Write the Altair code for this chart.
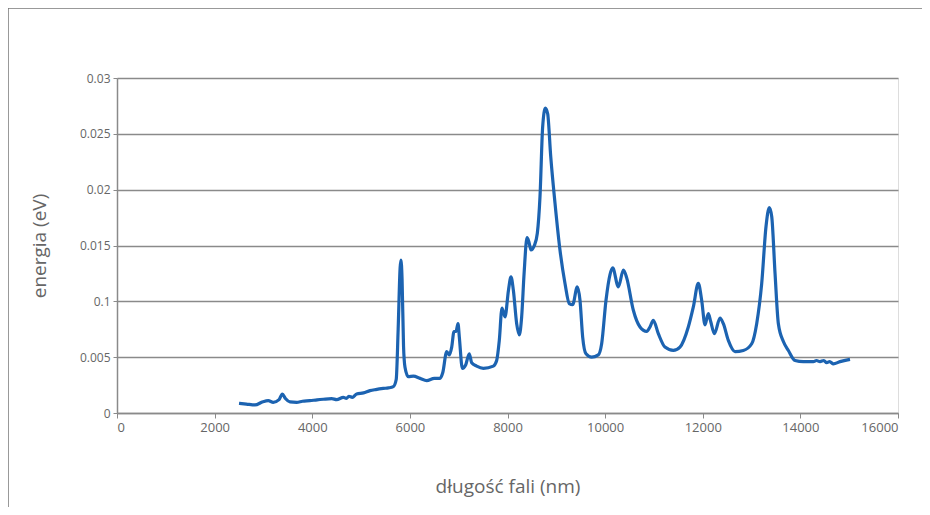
import altair as alt
import pandas as pd

wavelength = [2500, 2650, 2827, 2990, 3100, 3200, 3320, 3387, 3450, 3545, 3680, 3800, 3950, 4100, 4227,
              4400, 4500, 4637, 4700, 4750, 4820, 4910, 5050, 5183, 5300, 5456, 5560, 5661, 5720, 5760,
              5800, 5818, 5840, 5870, 5900, 5968, 6072, 6208, 6345, 6500,
              6618, 6673, 6755, 6809, 6857, 6904, 6945, 6986, 7013, 7075, 7143, 7217, 7266, 7368, 7505,
              7710, 7778, 7832, 7887, 7949, 8020, 8072, 8120, 8188, 8242, 8290, 8340, 8400, 8440, 8481,
              8550, 8611, 8666, 8720, 8775, 8823, 8885, 8973, 9075, 9178, 9266, 9335, 9430, 9485, 9540,
              9608, 9724, 9860, 9929, 10018, 10100, 10155, 10271, 10374, 10442, 10578, 10715, 10851, 10919,
              10987, 11090, 11226, 11397, 11533, 11704, 11807, 11909, 11978, 12046, 12114, 12163, 12238,
              12354, 12422, 12524, 12661, 12832, 13003, 13105, 13208, 13296, 13364, 13413, 13481, 13549,
              13652, 13754, 13891, 14062, 14266, 14330, 14403, 14480, 14539, 14600, 14676, 14812, 15017]
energy = [0.00087, 0.0008, 0.00072, 0.00101, 0.0011, 0.00096, 0.0012, 0.0017, 0.0013, 0.001, 0.00096,
          0.00105, 0.0011, 0.00118, 0.00123, 0.00128, 0.0012, 0.0014, 0.0013, 0.0015, 0.0014, 0.0017,
          0.0018, 0.002, 0.0021, 0.0022, 0.00225, 0.00236, 0.003, 0.0075,
          0.013, 0.0137, 0.012,
          0.006, 0.0041, 0.00325, 0.0033, 0.0031, 0.0029, 0.0031, 0.0031, 0.0036, 0.0055, 0.0052, 0.0059,
          0.0073, 0.0073, 0.008, 0.0068, 0.004, 0.0043, 0.0053, 0.0045, 0.0042, 0.004, 0.0042, 0.0047,
          0.0065, 0.0094, 0.0086, 0.011, 0.0122, 0.011, 0.008, 0.007, 0.0086, 0.0125, 0.0157, 0.0153,
          0.0146, 0.015, 0.0161, 0.0194, 0.0256, 0.0273, 0.0268, 0.023, 0.0188, 0.0146, 0.0116, 0.0098,
          0.0097, 0.0113, 0.0101, 0.0068, 0.0053, 0.005, 0.0052, 0.0062, 0.0101, 0.0124, 0.013, 0.0113,
          0.0128, 0.0121, 0.0092, 0.0077, 0.0073, 0.0077, 0.0083, 0.0071, 0.0059, 0.0056, 0.0059, 0.0077,
          0.0095, 0.0116, 0.0101, 0.0079, 0.0089, 0.0082, 0.0071, 0.0085, 0.008, 0.0065, 0.0055, 0.0056,
          0.0062, 0.008, 0.0116, 0.0167, 0.0184, 0.0176, 0.0125, 0.008, 0.0064, 0.0056, 0.0047, 0.0046,
          0.0046, 0.0047, 0.0046, 0.0047, 0.0045, 0.0046, 0.0044, 0.0046, 0.0048]

x_ticks = [0, 2000, 4000, 6000, 8000, 10000, 12000, 14000, 16000]
y_tick_values = [0, 0.005, 0.01, 0.015, 0.02, 0.025, 0.03]
y_tick_labels = ["0", "0.005", "0.1", "0.015", "0.02", "0.025", "0.03"]

x_title = "długość fali (nm)"
y_title = "energia (eV)"

df = pd.DataFrame({"wavelength": wavelength, "energy": energy})

label_expr = "[" + ",".join("'" + s + "'" for s in y_tick_labels) + "][indexof([" + \
    ",".join(repr(v) for v in y_tick_values) + "], datum.value)]"

GREY = "#8a8a8a"
TEXT = "#666666"
FONT = "Open Sans"

line = alt.Chart(df).mark_line(color="#1c63b1", strokeWidth=3.2, interpolate="monotone").encode(
    x=alt.X("wavelength:Q",
            scale=alt.Scale(domain=[0, 16000], nice=False),
            axis=alt.Axis(values=x_ticks, title=x_title, grid=False, format="d",
                          labelFont=FONT, labelFontSize=13, labelColor=TEXT, labelPadding=3,
                          tickSize=5, tickColor=GREY, domainColor=GREY, domainWidth=1.5,
                          titleFont=FONT, titleFontSize=19, titleFontWeight="normal",
                          titleColor=TEXT, titlePadding=43)),
    y=alt.Y("energy:Q",
            scale=alt.Scale(domain=[0, 0.03], nice=False),
            axis=alt.Axis(values=y_tick_values, labelExpr=label_expr, title=y_title,
                          grid=True, gridColor=GREY, gridWidth=1.3,
                          labelFont=FONT, labelFontSize=12, labelColor=TEXT,
                          labelPadding=3, tickSize=4, tickColor=GREY, domainColor=GREY,
                          domainWidth=1.5, titleFont=FONT, titleFontSize=19,
                          titleFontWeight="normal", titleColor=TEXT, titlePadding=30)),
)

one = pd.DataFrame({"k": [0]})
frame_left = alt.Chart(one).mark_rule(color="#777777", strokeWidth=1.5).encode(
    x=alt.value(-109), y=alt.value(-70), y2=alt.value(600)
)
frame_top = alt.Chart(one).mark_rule(color="#777777", strokeWidth=1.5).encode(
    x=alt.value(-109), x2=alt.value(1000), y=alt.value(-70)
)

chart = alt.layer(frame_left, frame_top, line).properties(
    width=781, height=335,
    autosize=alt.AutoSizeParams(type="none"),
    padding={"left": 109, "top": 70, "right": 24, "bottom": 94},
).configure_view(stroke=None).configure(background="white")

chart.save("out.html", embed_options={"renderer": "svg", "actions": False})
